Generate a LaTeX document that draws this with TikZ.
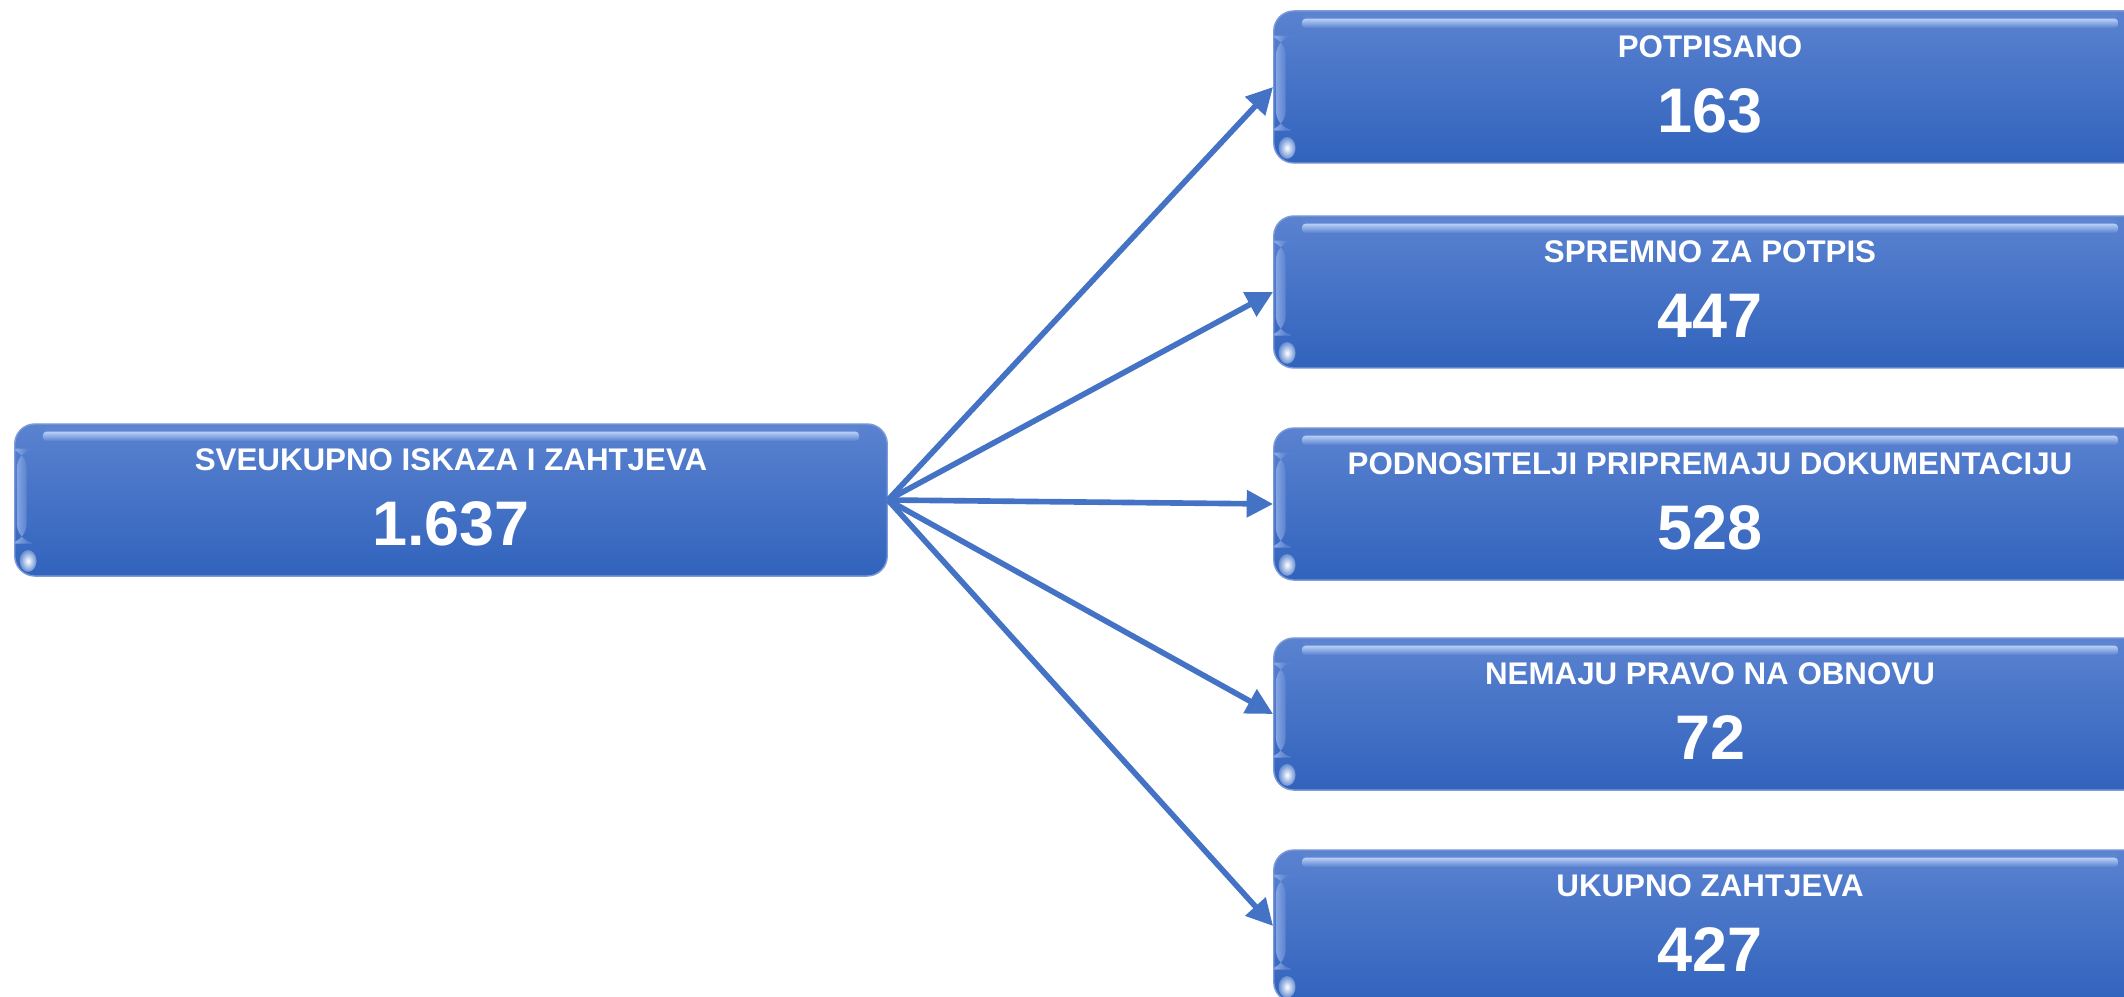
\documentclass[tikz,border=0pt]{standalone}
\usepackage{fontspec}
\setmainfont{Liberation Sans}
\usetikzlibrary{arrows.meta,calc}
\definecolor{boxtop}{HTML}{5A82D0}
\definecolor{boxbot}{HTML}{3163BC}
\definecolor{boxedge}{HTML}{7D9BD8}
\definecolor{hilite}{HTML}{B8D0F7}
\definecolor{arrowblue}{HTML}{4472C4}
\tikzset{
  box/.style={rounded corners=5.7pt, minimum width=8.72cm, minimum height=1.52cm,
    top color=boxtop, bottom color=boxbot, draw=boxedge, line width=.4pt,
    path picture={
      % glossy band along the top
      \shade[top color=boxtop, bottom color=hilite, rounded corners=1pt]
        ([xshift=8pt,yshift=-.8pt]path picture bounding box.north west) rectangle
        ([xshift=-8pt,yshift=-2.2pt]path picture bounding box.north east);
      \shade[top color=hilite, bottom color=boxtop, rounded corners=1pt]
        ([xshift=8pt,yshift=-2.2pt]path picture bounding box.north west) rectangle
        ([xshift=-8pt,yshift=-4.8pt]path picture bounding box.north east);
      % light strip on the left side
      \shade[left color=hilite!45!boxtop, right color=boxtop]
        ([xshift=.6pt,yshift=-7pt]path picture bounding box.north west) rectangle
        ([xshift=3.4pt,yshift=-34pt]path picture bounding box.north west);
      % shine in the lower left corner
      \shade[inner color=white, outer color=boxbot!60!hilite]
        ([xshift=3.8pt,yshift=4.3pt]path picture bounding box.south west)
        ellipse (2.4pt and 3.1pt);
    }},
}

\begin{document}
\begin{tikzpicture}[x=0.01cm,y=-0.01cm,
    ttl/.style={text=white,font=\bfseries\fontsize{8.9}{10}\selectfont},
    val/.style={text=white,font=\bfseries\fontsize{17.9}{20}\selectfont},
    link/.style={draw=arrowblue,line width=1.6pt,-{Triangle[length=7.5pt,width=7.5pt]}}]

  \path[use as bounding box,clip] (0,0) rectangle (2124,997);

  % Left box
  \node[box] (total) at (451,500) {};
  \node[ttl] (totalttl) at (451,460) {SVEUKUPNO ISKAZA I ZAHTJEVA};
  \node[val] (totalval) at (451,524) {1.637};

  % Right boxes and arrows
  \foreach \y/\name/\lbl/\num in {87/signed/POTPISANO/163,
      292/ready/SPREMNO ZA POTPIS/447,
      504/preparing/PODNOSITELJI PRIPREMAJU DOKUMENTACIJU/528,
      714/noright/NEMAJU PRAVO NA OBNOVU/72,
      926/requests/UKUPNO ZAHTJEVA/427} {
    \node[box] (\name) at (1710,\y) {};
    \node[ttl] (\name ttl) at (1710,\y-40) {\lbl};
    \node[val] (\name val) at (1710,\y+24) {\num};
    \draw[link] (total.east) -- (\name.west);
  }

\end{tikzpicture}
\end{document}
